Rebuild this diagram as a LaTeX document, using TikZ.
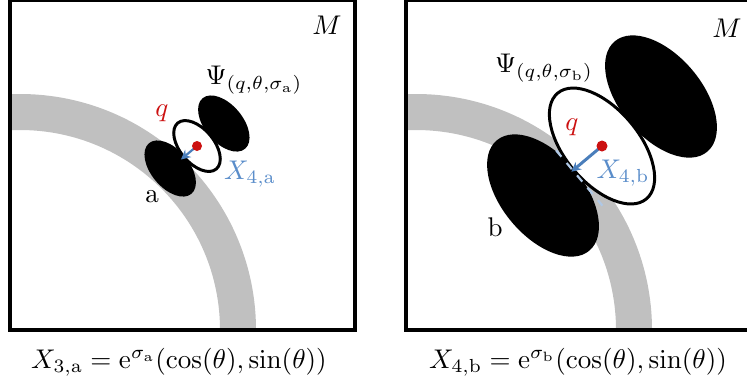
\documentclass[tikz,border=0pt]{standalone}
\usepackage{amsmath,amssymb}
\usetikzlibrary{arrows.meta}
\definecolor{azulseta}{HTML}{4A7EBB}
\definecolor{azulrot}{HTML}{5A8DCA}
\definecolor{azultrac}{HTML}{AFC8E6}
\definecolor{vermelhoq}{HTML}{CC1111}
\definecolor{cinzafaixa}{HTML}{C0C0C0}

\begin{document}
\begin{tikzpicture}[x=0.37pt, y=-0.37pt,
  caixa/.style={line width=1.5pt},
  faixa/.style={cinzafaixa, even odd rule},
  lobo/.style={fill=black},
  nucleo/.style={fill=white, draw=black, line width=1.1pt},
  seta/.style={azulseta, line width=0.8pt, -{Stealth[length=3.5pt,width=3.5pt]}},
  trac/.style={azultrac, dashed, line width=0.8pt},
  ponto/.style={fill=vermelhoq},
  rot/.style={inner sep=0pt}]
\useasboundingbox (0,0) rectangle (747,385);

% ================= painel a : escala pequena =================
\begin{scope}
  \begin{scope}
    \clip (10,0) rectangle (355,330);
    \fill[faixa] (20,330) circle (236) circle (200);
  \end{scope}
  \draw[caixa] (10,0) rectangle (355,330);
  % ondaleta em q
  \begin{scope}[shift={(197,146)}, rotate=40]
    \fill[lobo] (35,0) ellipse [x radius=19, y radius=33];
    \fill[lobo] (-35,0) ellipse [x radius=19, y radius=33];
    \filldraw[nucleo] (0,0) ellipse [x radius=17, y radius=30];
    \coordinate (qa) at (0,0);
    \coordinate (pa) at (-21,0);
  \end{scope}
  \draw[seta] (qa) -- (pa);
  \fill[ponto] (qa) circle (5);
  \node[rot] (Ma) at (327,25) {$M$};
  \node[rot] (psia) at (254,80) {$\Psi_{(q,\theta,\sigma_{\mathrm{a}})}$};
  \node[rot, vermelhoq] (qlaba) at (162,113) {$q$};
  \node[rot, azulrot] (Xa) at (250,174) {$X_{4,\mathrm{a}}$};
  \node[rot] (laba) at (152,197) {$\mathrm{a}$};
  \node[rot] (lega) at (179,362)
    {$X_{3,\mathrm{a}} = \mathrm{e}^{\sigma_{\mathrm{a}}}(\cos(\theta),\sin(\theta))$};
\end{scope}

% ================= painel b : escala grande =================
\begin{scope}[shift={(396,0)}]
  \begin{scope}
    \clip (10,0) rectangle (355,330);
    \fill[faixa] (20,330) circle (236) circle (200);
  \end{scope}
  \draw[caixa] (10,0) rectangle (355,330);
  % ondaleta em q, dilatada
  \begin{scope}[shift={(206,146)}, rotate=40]
    \fill[lobo] (77,0) ellipse [x radius=41, y radius=72];
    \fill[lobo] (-77,0) ellipse [x radius=41, y radius=72];
    \filldraw[nucleo] (0,0) ellipse [x radius=37, y radius=69];
    \coordinate (qb) at (0,0);
    \coordinate (pb) at (-40,0);
    \coordinate (tb1) at (-38,-26);
    \coordinate (tb2) at (-38,46);
  \end{scope}
  \draw[trac] (tb1) -- (tb2);
  \draw[seta, line width=1.1pt] (qb) -- (pb);
  \fill[ponto] (qb) circle (5.5);
  \node[rot] (Mb) at (331,28) {$M$};
  \node[rot] (psib) at (148,68) {$\Psi_{(q,\theta,\sigma_{\mathrm{b}})}$};
  \node[rot, vermelhoq] (qlabb) at (176,127) {$q$};
  \node[rot, azulrot] (Xb) at (227,173) {$X_{4,\mathrm{b}}$};
  \node[rot] (labb) at (99,227) {$\mathrm{b}$};
  \node[rot] (legb) at (182,362)
    {$X_{4,\mathrm{b}} = \mathrm{e}^{\sigma_{\mathrm{b}}}(\cos(\theta),\sin(\theta))$};
\end{scope}

\end{tikzpicture}
\end{document}
